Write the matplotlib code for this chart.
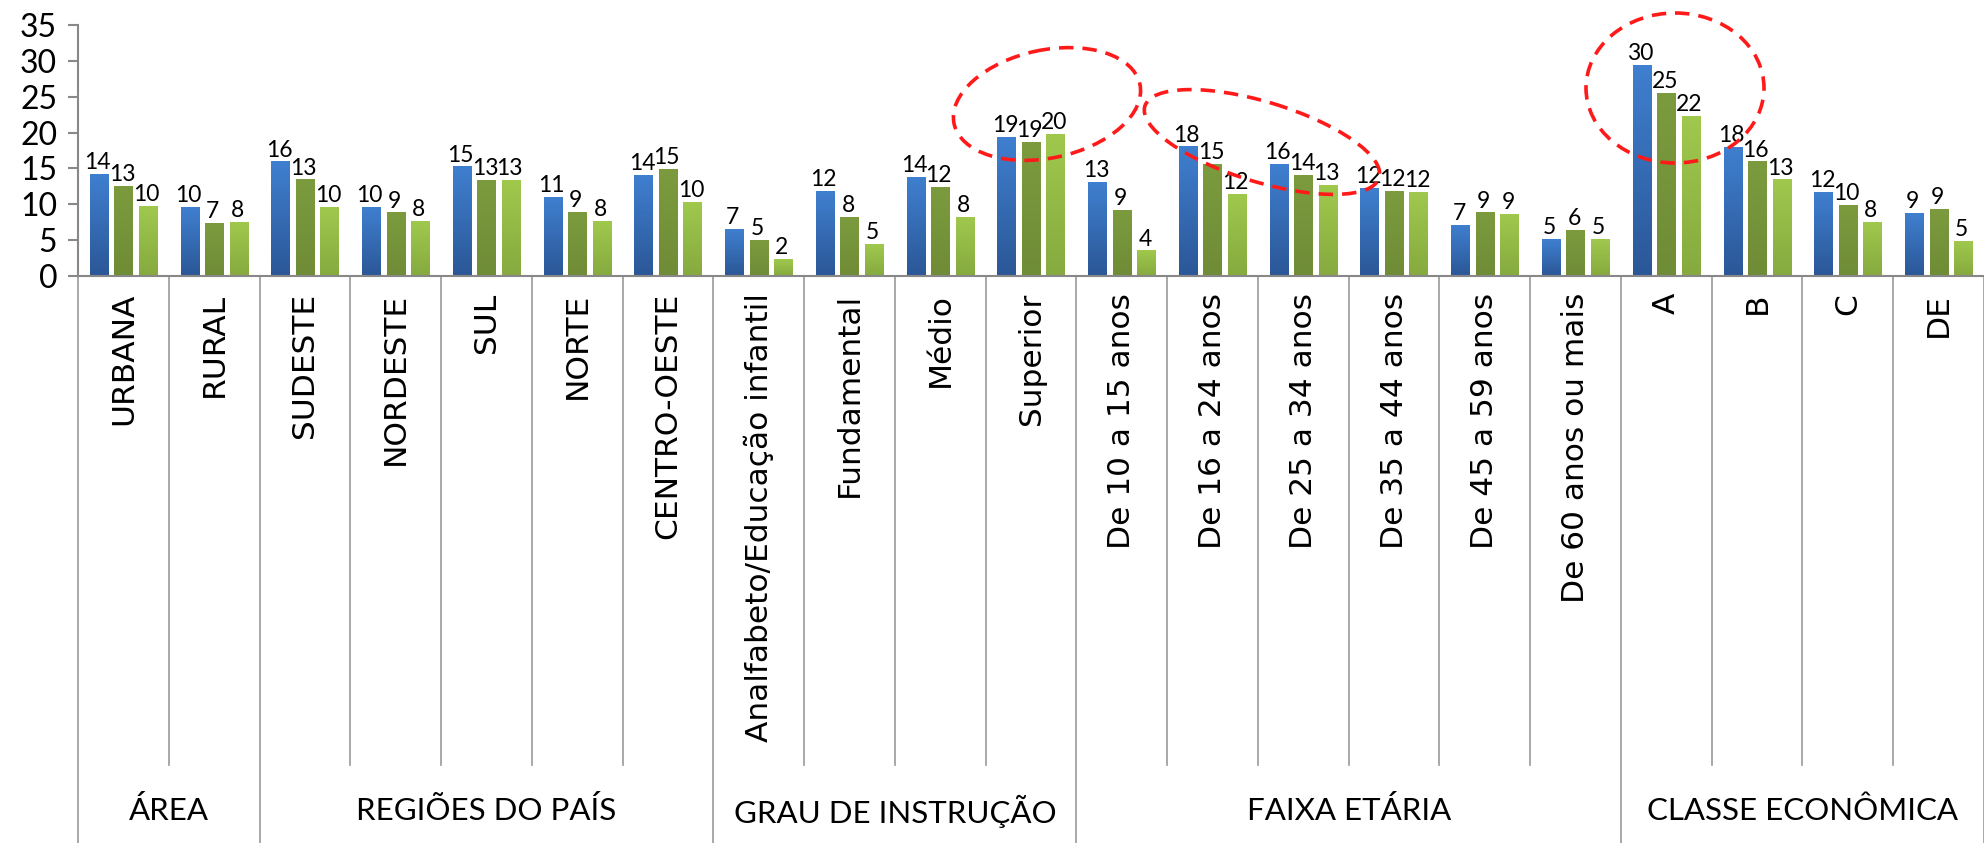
import matplotlib.pyplot as plt
import matplotlib.transforms as mtransforms
from matplotlib.patches import Ellipse
import numpy as np

# categories and groups
categories = ["URBANA", "RURAL", "SUDESTE", "NORDESTE", "SUL", "NORTE", "CENTRO-OESTE",
              "Analfabeto/Educação infantil", "Fundamental", "Médio", "Superior",
              "De 10 a 15 anos", "De 16 a 24 anos", "De 25 a 34 anos", "De 35 a 44 anos",
              "De 45 a 59 anos", "De 60 anos ou mais", "A", "B", "C", "DE"]
groups = ["ÁREA", "REGIÕES DO PAÍS", "GRAU DE INSTRUÇÃO", "FAIXA ETÁRIA", "CLASSE ECONÔMICA"]
group_sizes = [2, 5, 4, 6, 4]

# three series
serie1 = [14.2, 9.6, 15.9, 9.6, 15.2, 10.9, 14.0, 6.5, 11.8, 13.8, 19.3,
          13.1, 18.0, 15.5, 12.2, 7.1, 5.1, 29.4, 17.9, 11.6, 8.7]
serie2 = [12.5, 7.3, 13.4, 8.8, 13.3, 8.9, 14.8, 5.0, 8.2, 12.3, 18.6,
          9.1, 15.5, 14.0, 11.8, 8.8, 6.3, 25.4, 15.9, 9.8, 9.3]
serie3 = [9.7, 7.5, 9.5, 7.6, 13.3, 7.6, 10.3, 2.3, 4.4, 8.2, 19.7,
          3.5, 11.4, 12.6, 11.6, 8.6, 5.1, 22.3, 13.4, 7.5, 4.8]
labels1 = [14, 10, 16, 10, 15, 11, 14, 7, 12, 14, 19, 13, 18, 16, 12, 7, 5, 30, 18, 12, 9]
labels2 = [13, 7, 13, 9, 13, 9, 15, 5, 8, 12, 19, 9, 15, 14, 12, 9, 6, 25, 16, 10, 9]
labels3 = [10, 8, 10, 8, 13, 8, 10, 2, 5, 8, 20, 4, 12, 13, 12, 9, 5, 22, 13, 8, 5]

yticks = [0, 5, 10, 15, 20, 25, 30, 35]

# gradient colours (top, bottom) for each series
gradients = [("#3f7fcf", "#2b5797"), ("#7c9b3e", "#6f8c36"), ("#a0c84d", "#86aa3f")]

W, H = 1984, 843
fig = plt.figure(figsize=(W / 100, H / 100), dpi=100)
ax = fig.add_axes([78 / W, 1 - 276 / H, 1 - 78 / W, (276 - 25) / H])

n = len(categories)
centers = np.arange(n) + 0.5
bw = 0.2
offsets = [-0.27, 0.0, 0.27]
series = [serie1, serie2, serie3]
label_sets = [labels1, labels2, labels3]

for s, (vals, labs, (ctop, cbot)) in enumerate(zip(series, label_sets, gradients)):
    grad = np.linspace(0, 1, 64).reshape(-1, 1)
    cmap = plt.matplotlib.colors.LinearSegmentedColormap.from_list("g%d" % s, [cbot, ctop])
    for i, v in enumerate(vals):
        x0 = centers[i] + offsets[s] - bw / 2
        ax.imshow(grad, extent=(x0, x0 + bw, 0, v), origin="lower", aspect="auto",
                  cmap=cmap, zorder=2)
        ax.annotate(str(labs[i]), (centers[i] + offsets[s], v), xytext=(-1, 1),
                    textcoords="offset points", ha="center", va="bottom",
                    fontsize=16.5, family="Lato", color="black", zorder=4)

ax.set_xlim(0, n)
ax.set_ylim(0, 35)
ax.set_yticks(yticks)
ax.set_yticklabels([str(t) for t in yticks], fontsize=23, family="Lato")
ax.tick_params(axis="y", length=7, color="#888888", width=1.5, pad=8)
ax.set_xticks(centers)
ax.set_xticklabels(categories, rotation=90, va="top", ha="center", fontsize=22.5,
                   family="DejaVu Sans")
ax.tick_params(axis="x", length=0, pad=12)
for side in ["top", "right"]:
    ax.spines[side].set_visible(False)
ax.spines["left"].set_color("#888888")
ax.spines["bottom"].set_color("#888888")
ax.spines["left"].set_linewidth(1.5)
ax.spines["bottom"].set_linewidth(1.5)

# category and group separators below the axis
trans = mtransforms.blended_transform_factory(ax.transData, fig.transFigure)
y_axis = 1 - 276 / H
y_cat = 1 - 765 / H
bounds = np.cumsum([0] + group_sizes)
for k in range(n + 1):
    y_end = 0 if k in bounds else y_cat
    ax.plot([k, k], [y_axis, y_end], transform=trans, color="#999999", lw=1.2,
            clip_on=False, zorder=1)
for g, name in enumerate(groups):
    mid = (bounds[g] + bounds[g + 1]) / 2
    ax.text(mid, 1 - 811 / H, name, transform=trans, ha="center", va="center",
            fontsize=22.5, family="Lato", color="black")

# red dashed highlight ellipses, drawn in pixel space
over = fig.add_axes([0, 0, 1, 1], facecolor="none")
over.set_xlim(0, W)
over.set_ylim(H, 0)
over.axis("off")
for (cx, cy, ew, eh, ang) in [(1047, 104, 190, 108, -12), (1262, 142, 245, 80, 17),
                              (1675, 88, 178, 150, 0)]:
    over.add_patch(Ellipse((cx, cy), ew, eh, angle=ang, fill=False, edgecolor="#ff1a1a",
                           lw=2.6, ls=(0, (4, 2.5)), zorder=5))

fig.savefig("out.png", dpi=100)
